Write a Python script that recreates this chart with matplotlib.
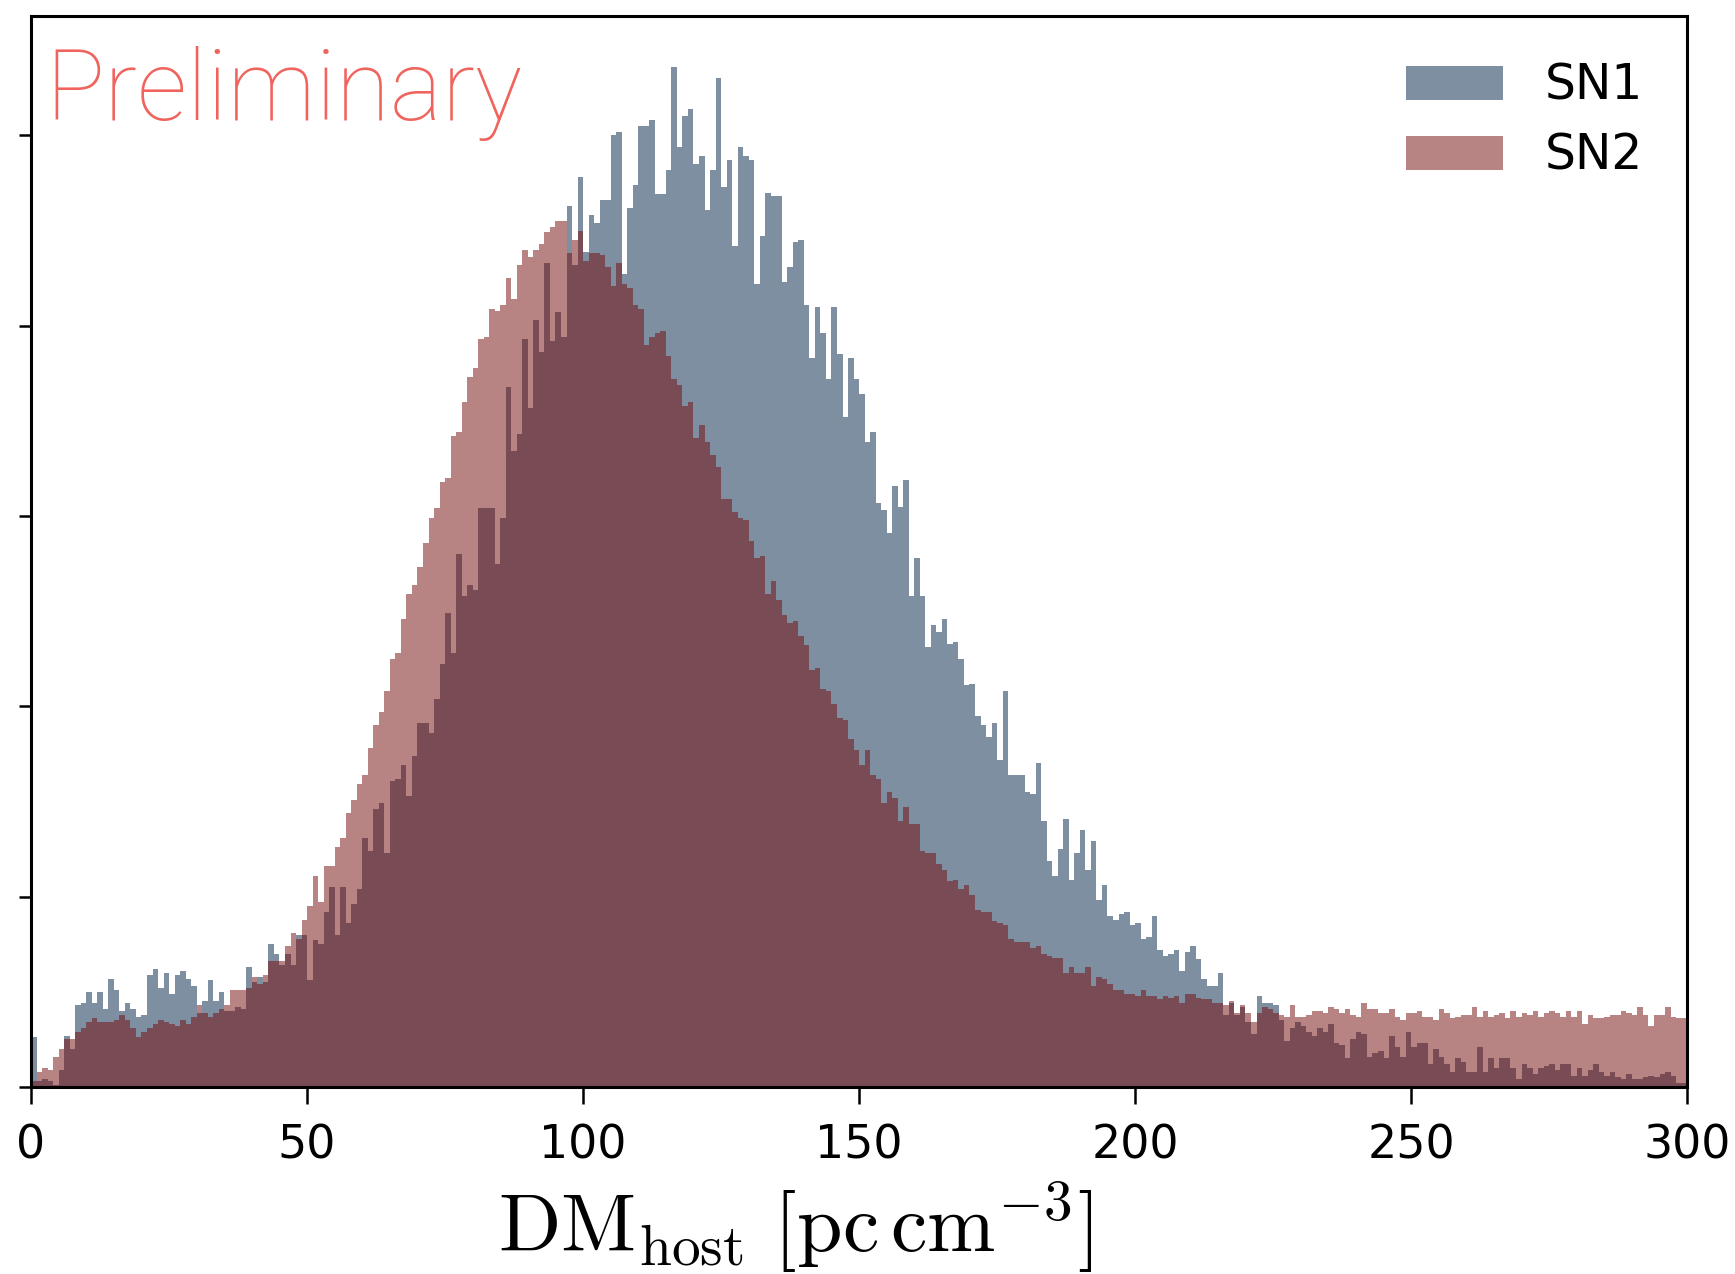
import numpy as np
import matplotlib
matplotlib.use('Agg')
import matplotlib.pyplot as plt

plt.rcParams['mathtext.fontset'] = 'cm'

# bin edges in DM_host, 1 pc/cm^3 wide
edges = np.arange(0, 301, 1)

# counts per bin (y tick spacing = 100)
sn1_counts = [
    26, 3, 4, 3, 1, 9, 27, 20, 43, 44,
    50, 44, 50, 41, 57, 51, 40, 44, 41, 37,
    38, 59, 62, 52, 60, 49, 59, 61, 57, 53,
    39, 45, 56, 45, 50, 40, 40, 42, 41, 63,
    55, 58, 55, 75, 70, 64, 70, 64, 80, 80,
    56, 77, 75, 92, 105, 80, 105, 86, 96, 104,
    131, 124, 146, 149, 123, 161, 162, 169, 153, 174,
    191, 191, 186, 204, 222, 249, 228, 280, 258, 264,
    261, 304, 304, 304, 275, 299, 368, 334, 343, 393,
    357, 403, 386, 433, 392, 407, 394, 463, 432, 478,
    439, 458, 454, 466, 466, 500, 502, 427, 462, 474,
    505, 505, 508, 469, 469, 482, 536, 494, 510, 514,
    485, 489, 461, 482, 530, 473, 487, 442, 494, 489,
    487, 422, 447, 470, 468, 468, 423, 431, 444, 445,
    411, 383, 410, 396, 372, 410, 385, 352, 383, 372,
    364, 339, 344, 307, 303, 291, 316, 305, 319, 258,
    278, 258, 231, 243, 239, 246, 233, 234, 225, 211,
    212, 195, 190, 184, 191, 172, 208, 164, 164, 164,
    155, 154, 170, 140, 119, 111, 125, 141, 109, 123,
    135, 114, 129, 98, 106, 90, 88, 91, 92, 85,
    86, 78, 79, 90, 72, 69, 70, 72, 61, 71,
    74, 67, 57, 53, 53, 60, 38, 44, 38, 42,
    34, 28, 48, 44, 44, 43, 35, 24, 31, 34,
    32, 29, 27, 31, 29, 33, 23, 22, 15, 25,
    29, 28, 16, 18, 19, 15, 27, 21, 16, 29,
    21, 23, 23, 12, 20, 16, 12, 8, 15, 13,
    8, 8, 21, 8, 15, 10, 15, 15, 10, 4,
    12, 10, 7, 10, 11, 12, 9, 12, 12, 6,
    10, 6, 9, 12, 8, 6, 8, 5, 4, 7,
    4, 4, 5, 6, 5, 7, 8, 6, 2, 2,
]

sn2_counts = [
    3, 8, 10, 9, 16, 20, 25, 25, 29, 31,
    34, 36, 34, 34, 34, 35, 38, 35, 31, 26,
    29, 31, 33, 35, 34, 33, 32, 35, 33, 37,
    43, 39, 37, 39, 41, 43, 51, 51, 51, 52,
    58, 54, 59, 66, 66, 66, 74, 81, 78, 88,
    95, 111, 97, 116, 116, 126, 131, 144, 151, 159,
    164, 178, 190, 197, 208, 225, 228, 246, 259, 264,
    273, 286, 299, 304, 318, 320, 342, 344, 360, 373,
    378, 393, 394, 409, 408, 411, 425, 414, 432, 440,
    436, 440, 443, 449, 452, 455, 455, 438, 445, 450,
    434, 438, 438, 437, 431, 421, 433, 422, 420, 411,
    409, 390, 394, 396, 397, 384, 372, 369, 358, 360,
    341, 348, 339, 332, 326, 309, 309, 302, 299, 298,
    287, 278, 279, 259, 266, 256, 248, 244, 245, 237,
    232, 219, 220, 209, 208, 201, 194, 193, 183, 177,
    169, 177, 164, 162, 149, 155, 152, 140, 147, 138,
    138, 124, 123, 123, 117, 114, 108, 109, 104, 106,
    101, 93, 92, 92, 87, 86, 85, 78, 76, 76,
    76, 73, 74, 70, 69, 68, 68, 60, 63, 60,
    60, 63, 53, 58, 57, 54, 51, 51, 49, 49,
    48, 51, 48, 48, 46, 48, 47, 48, 44, 49,
    49, 47, 46, 46, 44, 44, 43, 45, 39, 43,
    39, 34, 39, 42, 41, 39, 38, 37, 43, 37,
    37, 38, 40, 40, 39, 42, 41, 39, 41, 38,
    37, 44, 41, 41, 39, 39, 41, 37, 35, 39,
    39, 40, 37, 37, 35, 41, 39, 36, 37, 38,
    38, 42, 37, 40, 37, 38, 39, 36, 40, 37,
    39, 38, 40, 37, 39, 40, 39, 37, 40, 37,
    40, 33, 38, 36, 36, 37, 38, 38, 40, 39,
    38, 42, 38, 32, 38, 38, 42, 37, 36, 36,
]

labels = ['SN1', 'SN2']
x_ticks = [0, 50, 100, 150, 200, 250, 300]
y_ticks = [0, 100, 200, 300, 400, 500]

fig = plt.figure(figsize=(17.35, 12.74), dpi=100)
ax = fig.add_axes([0.0179, 0.1468, 0.9545, 0.841])

ax.stairs(sn1_counts, edges, fill=True, color='#002147', alpha=0.5, label=labels[0])
ax.stairs(sn2_counts, edges, fill=True, color='#730909', alpha=0.5, label=labels[1])

ax.set_xlim(0, 300)
ax.set_ylim(0, 563)
ax.set_xticks(x_ticks)
ax.set_yticks(y_ticks)
ax.tick_params(axis='x', labelsize=33, length=12, width=1.8, pad=14)
ax.tick_params(axis='y', labelleft=False, length=9, width=1.8)
for spine in ax.spines.values():
    spine.set_linewidth(2.2)

ax.legend(loc='upper right', bbox_to_anchor=(0.985, 0.975), frameon=False,
          fontsize=35, handlelength=2.0, handleheight=0.7,
          handletextpad=0.85, labelspacing=0.45, borderaxespad=0)

fig.text(0.026, 0.9058, 'Preliminary', color='#f0645e', fontsize=71,
         family='Roboto', fontweight='light', ha='left', va='baseline')

fig.text(0.458, 0.0175, r'$\mathrm{DM}_{\mathrm{host}}\ [\mathrm{pc\,cm}^{-3}]$',
         fontsize=59, ha='center', va='baseline')

fig.savefig('out.png', dpi=100)
